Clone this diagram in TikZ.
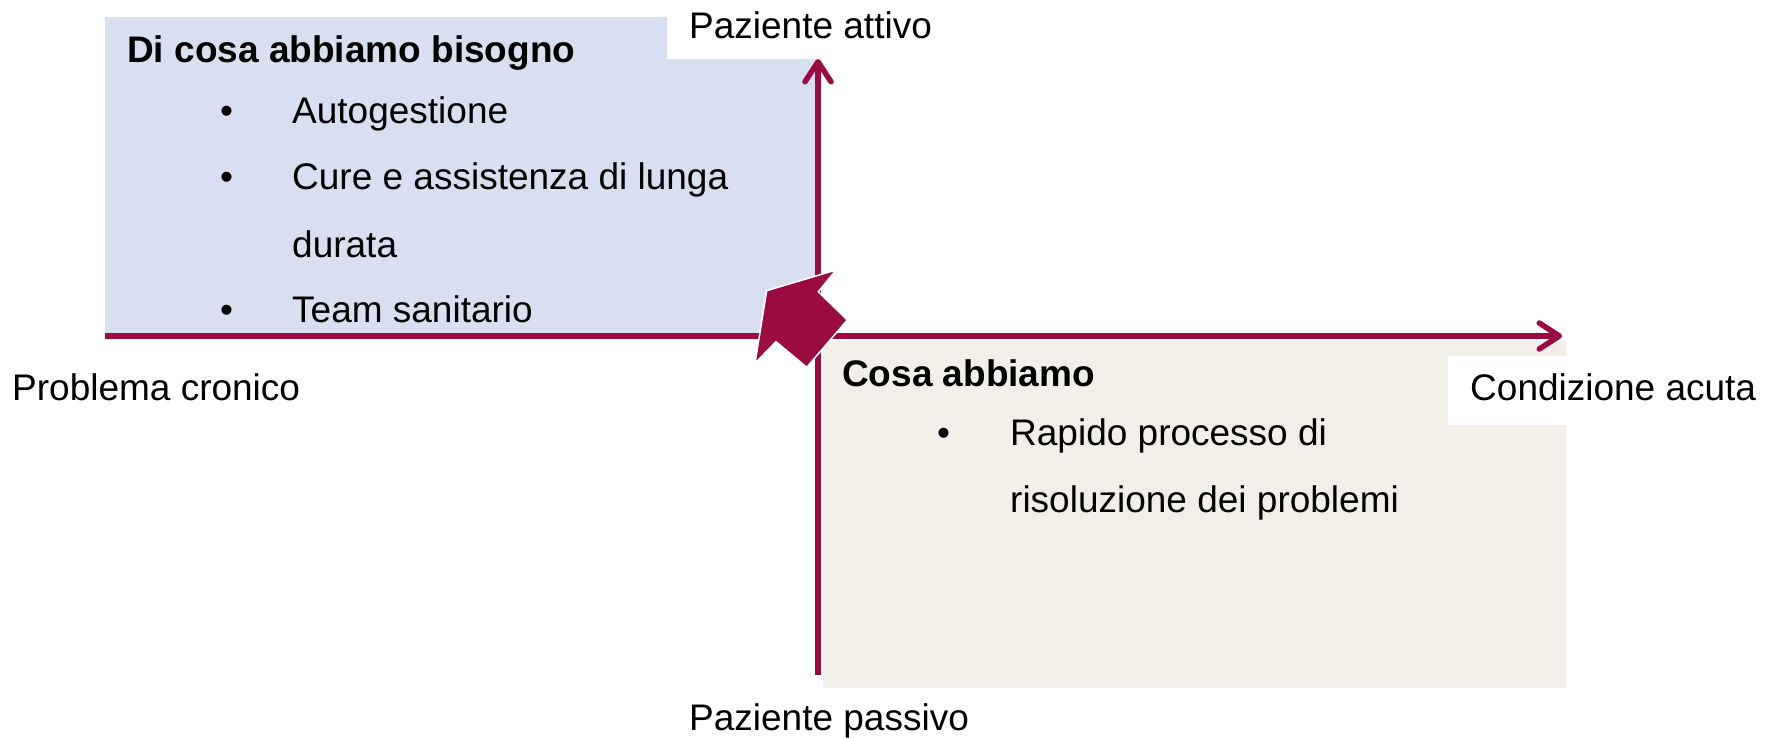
\documentclass[tikz,border=0pt]{standalone}
\usepackage{fontspec}
\setmainfont{Liberation Sans}
\usepackage{tikz}
\usetikzlibrary{arrows.meta}
\definecolor{wine}{RGB}{155,10,65}
\definecolor{needblue}{RGB}{216,223,240}
\definecolor{havebeige}{RGB}{242,239,232}
\tikzset{
  lbl/.style={font=\fontsize{37}{44}\selectfont, text height=27.75pt, text depth=9.25pt,
              inner sep=0pt, anchor=base west},
  head/.style={lbl, font=\fontsize{37}{44}\selectfont\bfseries},
  axislbl/.style={lbl, fill=white, inner xsep=22pt, inner ysep=11pt},
  axis/.style={draw=wine, line width=5.5pt, -{Straight Barb[round,length=20pt,width=26pt]}},
}

\begin{document}
\begin{tikzpicture}[x=1pt,y=-1pt]
\useasboundingbox (0,0) rectangle (1777,738);
% quadrants
\fill[needblue] (105,17) rectangle (818,336);
\fill[havebeige] (823,341) rectangle (1566,688);
% axis labels
\node[axislbl] (active) at (667,39) {Paziente attivo};
\node[axislbl] (passive) at (667,730) {Paziente passivo};
\node[axislbl, inner xsep=10pt] (chronic) at (2,400) {Problema cronico};
\node[axislbl, inner ysep=16pt] (acute) at (1448,400) {Condizione acuta};
% axes
\coordinate (west) at (105,336);
\coordinate (east) at (1562,336);
\coordinate (south) at (818,675);
\coordinate (north) at (818,59);
\draw[axis] (west) -- (east);
\draw[axis] (south) -- (north);
% what we need
\node[head] (need) at (127,63) {Di cosa abbiamo bisogno};
\foreach \y/\A [count=\i] in {124/Autogestione,190/Cure e assistenza di lunga,322/Team sanitario} {
    \node[lbl] (needdot\i) at (220,\y) {\textbullet};
    \node[lbl] (needitem\i) at (292,\y) {\A};
}
\node[lbl] (needcont) at (292,257) {durata};
% what we have
\node[head] (have) at (842,386) {Cosa abbiamo};
\node[lbl] (havedot) at (937,445) {\textbullet};
\node[lbl] (haveitem) at (1010,445) {Rapido processo di};
\node[lbl] (havecont) at (1010,512) {risoluzione dei problemi};
% shift arrow
\draw[fill=wine, draw=white, line width=1.5pt] (766.7,290.7) -- (836,270) -- (818.3,291.7)
    -- (847.3,320) -- (806.7,367.3) -- (776,341.7) -- (755,363.3) -- cycle;
\end{tikzpicture}
\end{document}
